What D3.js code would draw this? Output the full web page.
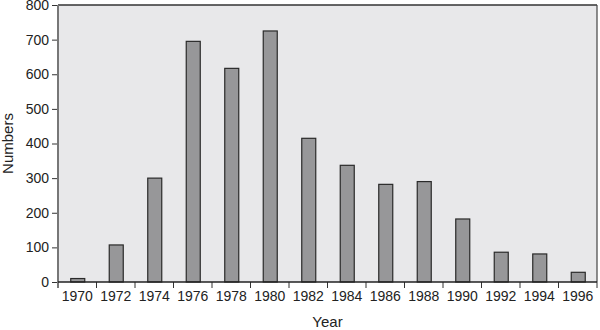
<!DOCTYPE html>
<html>
<head>
<meta charset="utf-8">
<script src="https://cdn.jsdelivr.net/npm/d3@7"></script>
<style>
body { margin: 0; background: #fff; }
text { font-family: "Liberation Sans", Arial, sans-serif; fill: #222; }
</style>
</head>
<body>
<div id="chart"></div>
<script>
// data
var years = ["1970","1972","1974","1976","1978","1980","1982","1984","1986","1988","1990","1992","1994","1996"];
var numbers = [10, 107, 300, 695, 617, 725, 415, 337, 282, 290, 182, 86, 81, 28];
var yTicks = [0, 100, 200, 300, 400, 500, 600, 700, 800];

function drawChart() {
	var W = 600, H = 330;
	var mLeft = 58, mRight = 597, mTop = 5, mBottom = 282;

	var svg = d3.select("#chart").append("svg")
		.attr("width", W)
		.attr("height", H);

	var x = d3.scaleBand().domain(years).range([mLeft, mRight]);
	var y = d3.scaleLinear().domain([0, 800]).range([mBottom, mTop]);

	// plot background
	svg.append("rect")
		.attr("x", mLeft)
		.attr("y", mTop)
		.attr("width", mRight - mLeft)
		.attr("height", mBottom - mTop)
		.attr("fill", "#e8e8ea");

	// bars
	var barW = 14;
	svg.selectAll("rect.bar").data(years)
		.enter().append("rect")
		.attr("class", "bar")
		.attr("x", function(d) { return x(d) + x.bandwidth() / 2 - barW / 2 + 0.5; })
		.attr("y", function(d, i) { return y(numbers[i]); })
		.attr("width", barW)
		.attr("height", function(d, i) { return mBottom - y(numbers[i]); })
		.attr("fill", "#979799")
		.attr("stroke", "#2a2a2a")
		.attr("stroke-width", 1.2);

	// frame: top and right
	svg.append("line").attr("x1", mLeft).attr("x2", mRight).attr("y1", mTop).attr("y2", mTop)
		.attr("stroke", "#333").attr("stroke-width", 1.5);
	svg.append("line").attr("x1", mRight).attr("x2", mRight).attr("y1", mTop).attr("y2", mBottom)
		.attr("stroke", "#444").attr("stroke-width", 1.2);

	// y axis
	var yAxis = svg.append("g")
		.attr("transform", "translate(" + mLeft + ",0)")
		.call(d3.axisLeft(y).tickValues(yTicks).tickSize(6).tickPadding(3));
	yAxis.select(".domain").remove();
	yAxis.selectAll("line").attr("stroke", "#333");
	yAxis.selectAll("text").attr("font-size", 14).attr("font-family", "Liberation Sans, Arial, sans-serif").attr("fill", "#222");
	svg.append("line").attr("x1", mLeft).attr("x2", mLeft).attr("y1", mTop).attr("y2", mBottom + 6)
		.attr("stroke", "#777").attr("stroke-width", 2);

	// x axis: labels centred in bands, ticks at band edges
	var xAxis = svg.append("g")
		.attr("transform", "translate(0," + mBottom + ")")
		.call(d3.axisBottom(x).tickSize(0).tickPadding(9));
	xAxis.select(".domain").remove();
	xAxis.selectAll("text").attr("font-size", 14).attr("font-family", "Liberation Sans, Arial, sans-serif").attr("fill", "#222");
	svg.selectAll("line.xtick").data(years.slice(1))
		.enter().append("line")
		.attr("class", "xtick")
		.attr("x1", function(d) { return x(d); })
		.attr("x2", function(d) { return x(d); })
		.attr("y1", mBottom)
		.attr("y2", mBottom + 6)
		.attr("stroke", "#333");
	svg.append("line").attr("x1", mRight).attr("x2", mRight).attr("y1", mBottom).attr("y2", mBottom + 6)
		.attr("stroke", "#333");
	svg.append("line").attr("x1", mLeft).attr("x2", mRight).attr("y1", mBottom).attr("y2", mBottom)
		.attr("stroke", "#222").attr("stroke-width", 1.5);

	// axis titles
	svg.append("text")
		.attr("x", (mLeft + mRight) / 2)
		.attr("y", 327)
		.attr("text-anchor", "middle")
		.attr("font-size", 15)
		.text("Year");
	svg.append("text")
		.attr("transform", "translate(13," + ((mTop + mBottom) / 2) + ") rotate(-90)")
		.attr("text-anchor", "middle")
		.attr("font-size", 15)
		.text("Numbers");
}
drawChart();
</script>
</body>
</html>
